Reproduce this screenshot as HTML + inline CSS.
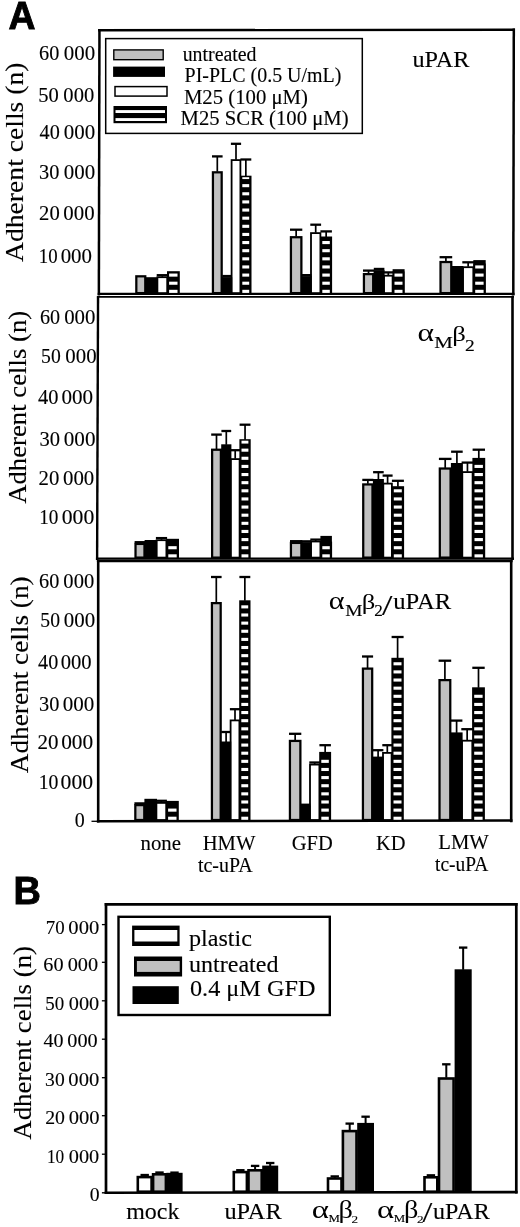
<!DOCTYPE html>
<html lang="en"><head><meta charset="utf-8"><title>Adherent cells figure</title>
<style>html,body{margin:0;padding:0;background:#fff}svg{display:block}text{font-family:'Liberation Serif', 'DejaVu Serif', serif;fill:#000;stroke:#000;stroke-width:0.12px}.gk{stroke:none}.pl{font-family:'Liberation Sans', 'DejaVu Sans', sans-serif;font-weight:bold;stroke-width:0.9px}</style>
</head><body>
<svg width="520" height="1227" viewBox="0 0 520 1227">
<rect x="0" y="0" width="520" height="1227" fill="#fff"/>
<text class="pl" x="8.6" y="29.2" font-size="38" textLength="27" lengthAdjust="spacingAndGlyphs">A</text>
<text class="pl" x="13.6" y="904" font-size="38.4" textLength="27.4" lengthAdjust="spacingAndGlyphs">B</text>
<line x1="99.45" y1="29.1" x2="98.85" y2="295.4" stroke="#000" stroke-width="2.5" />
<line x1="98.1" y1="30.3" x2="515" y2="29.7" stroke="#000" stroke-width="2.4" />
<line x1="513.8" y1="28.5" x2="513.3" y2="295.4" stroke="#000" stroke-width="2.5" />
<line x1="97.7" y1="293.95" x2="514.5" y2="293.95" stroke="#000" stroke-width="2.3" />
<line x1="98.05" y1="296.3" x2="97.1" y2="560" stroke="#000" stroke-width="2.4" />
<line x1="96.9" y1="296.95" x2="514" y2="296.95" stroke="#000" stroke-width="1.7" />
<line x1="512.5" y1="295.7" x2="512.5" y2="560" stroke="#000" stroke-width="2.6" />
<line x1="96" y1="558.7" x2="514" y2="558.7" stroke="#000" stroke-width="2.2" />
<line x1="98.2" y1="559.7" x2="98.2" y2="822.4" stroke="#000" stroke-width="2.6" />
<line x1="96.9" y1="561" x2="512.6" y2="561" stroke="#000" stroke-width="2.6" />
<line x1="511.2" y1="559.7" x2="511.2" y2="822.2" stroke="#000" stroke-width="2.6" />
<line x1="96.9" y1="821.3" x2="512.5" y2="820.5" stroke="#000" stroke-width="2.5" />
<line x1="91.5" y1="821.3" x2="97.5" y2="821.3" stroke="#000" stroke-width="1.3" />
<text y="59.7" font-size="20"><tspan x="39.09" textLength="20.22" lengthAdjust="spacingAndGlyphs">60</tspan> <tspan x="63.76" textLength="31.37" lengthAdjust="spacingAndGlyphs">000</tspan></text>
<text y="102.3" font-size="20"><tspan x="38.27" textLength="20.56" lengthAdjust="spacingAndGlyphs">50</tspan> <tspan x="63.38" textLength="30.85" lengthAdjust="spacingAndGlyphs">000</tspan></text>
<text y="138.8" font-size="20"><tspan x="39.6" textLength="20.21" lengthAdjust="spacingAndGlyphs">40</tspan> <tspan x="63.76" textLength="31.37" lengthAdjust="spacingAndGlyphs">000</tspan></text>
<text y="178.9" font-size="20"><tspan x="38.98" textLength="20.33" lengthAdjust="spacingAndGlyphs">30</tspan> <tspan x="63.76" textLength="31.37" lengthAdjust="spacingAndGlyphs">000</tspan></text>
<text y="220.2" font-size="20"><tspan x="39.07" textLength="20.66" lengthAdjust="spacingAndGlyphs">20</tspan> <tspan x="63.37" textLength="31.27" lengthAdjust="spacingAndGlyphs">000</tspan></text>
<text y="262.7" font-size="20"><tspan x="38.8" textLength="18.85" lengthAdjust="spacingAndGlyphs">10</tspan> <tspan x="60.66" textLength="31.37" lengthAdjust="spacingAndGlyphs">000</tspan></text>
<text y="323.9" font-size="20"><tspan x="39.9" textLength="20.11" lengthAdjust="spacingAndGlyphs">60</tspan> <tspan x="64.17" textLength="31.27" lengthAdjust="spacingAndGlyphs">000</tspan></text>
<text y="363" font-size="20"><tspan x="41.12" textLength="19.67" lengthAdjust="spacingAndGlyphs">50</tspan> <tspan x="65.37" textLength="31.27" lengthAdjust="spacingAndGlyphs">000</tspan></text>
<text y="403.5" font-size="20"><tspan x="38.09" textLength="20.43" lengthAdjust="spacingAndGlyphs">40</tspan> <tspan x="61.45" textLength="31.69" lengthAdjust="spacingAndGlyphs">000</tspan></text>
<text y="446.3" font-size="20"><tspan x="39.47" textLength="20.55" lengthAdjust="spacingAndGlyphs">30</tspan> <tspan x="63.75" textLength="31.69" lengthAdjust="spacingAndGlyphs">000</tspan></text>
<text y="484.7" font-size="20"><tspan x="38.57" textLength="20.77" lengthAdjust="spacingAndGlyphs">20</tspan> <tspan x="62.97" textLength="31.27" lengthAdjust="spacingAndGlyphs">000</tspan></text>
<text y="524.4" font-size="20"><tspan x="39.27" textLength="19.2" lengthAdjust="spacingAndGlyphs">10</tspan> <tspan x="61.73" textLength="32.54" lengthAdjust="spacingAndGlyphs">000</tspan></text>
<text y="587.8" font-size="20"><tspan x="39.09" textLength="20.22" lengthAdjust="spacingAndGlyphs">60</tspan> <tspan x="63.38" textLength="30.85" lengthAdjust="spacingAndGlyphs">000</tspan></text>
<text y="627.2" font-size="20"><tspan x="40.32" textLength="19.67" lengthAdjust="spacingAndGlyphs">50</tspan> <tspan x="63.76" textLength="31.37" lengthAdjust="spacingAndGlyphs">000</tspan></text>
<text y="668.6" font-size="20"><tspan x="38.1" textLength="20.11" lengthAdjust="spacingAndGlyphs">40</tspan> <tspan x="60.67" textLength="30.95" lengthAdjust="spacingAndGlyphs">000</tspan></text>
<text y="710.9" font-size="20"><tspan x="38.98" textLength="20.33" lengthAdjust="spacingAndGlyphs">30</tspan> <tspan x="62.66" textLength="31.58" lengthAdjust="spacingAndGlyphs">000</tspan></text>
<text y="749.2" font-size="20"><tspan x="37.56" textLength="20.98" lengthAdjust="spacingAndGlyphs">20</tspan> <tspan x="61.15" textLength="32.01" lengthAdjust="spacingAndGlyphs">000</tspan></text>
<text y="789.1" font-size="20"><tspan x="38.72" textLength="19.77" lengthAdjust="spacingAndGlyphs">10</tspan> <tspan x="60.63" textLength="32.54" lengthAdjust="spacingAndGlyphs">000</tspan></text>
<text x="74.8" y="827.3" font-size="20" >0</text>
<text transform="translate(23.4,262) rotate(-90)" font-size="26" textLength="199.5" lengthAdjust="spacingAndGlyphs">Adherent cells (n)</text>
<text transform="translate(26.2,503.8) rotate(-90)" font-size="26" textLength="193" lengthAdjust="spacingAndGlyphs">Adherent cells (n)</text>
<text transform="translate(27.7,773.2) rotate(-90)" font-size="26" textLength="196.8" lengthAdjust="spacingAndGlyphs">Adherent cells (n)</text>
<rect x="105.7" y="38.6" width="256.6" height="94.8" fill="#fff" stroke="#000" stroke-width="1.5"/>
<rect x="113.8" y="49.9" width="49.4" height="9.8" fill="#c0c0c0" stroke="#000" stroke-width="1.4"/>
<rect x="113.1" y="66.6" width="51.9" height="10.3" fill="#000"/>
<rect x="115" y="86.6" width="52" height="9.5" fill="#fff" stroke="#000" stroke-width="1.5"/>
<rect x="113.5" y="106" width="53.5" height="17.2" fill="#000"/>
<rect x="115.5" y="110.1" width="49.5" height="2.9" fill="#fff"/>
<rect x="115.5" y="118.1" width="49.5" height="2.9" fill="#fff"/>
<text x="182.7" y="60.6" font-size="20" textLength="73.8" lengthAdjust="spacingAndGlyphs" >untreated</text>
<text x="184.6" y="81.6" font-size="20" textLength="156.8" lengthAdjust="spacingAndGlyphs" >PI-PLC (0.5 U/mL)</text>
<text x="183.9" y="104.2" font-size="20" textLength="124.0" lengthAdjust="spacingAndGlyphs" >M25 (100 μM)</text>
<text x="180.6" y="125.4" font-size="20" textLength="168.0" lengthAdjust="spacingAndGlyphs" >M25 SCR (100 μM)</text>
<text x="412.5" y="66.6" font-size="24" textLength="57.0" lengthAdjust="spacingAndGlyphs" >uPAR</text>
<text x="417.5" y="340.8" font-size="25" textLength="16.5" lengthAdjust="spacingAndGlyphs" class="gk">α</text>
<text x="434.3" y="347.5" font-size="17.4" textLength="18.6" lengthAdjust="spacingAndGlyphs" >M</text>
<text x="452.3" y="340.8" font-size="21" textLength="13.6" lengthAdjust="spacingAndGlyphs" class="gk">β</text>
<text x="464.9" y="350.8" font-size="16.5" textLength="9.8" lengthAdjust="spacingAndGlyphs" >2</text>
<text x="328.7" y="609.4" font-size="25" textLength="15.8" lengthAdjust="spacingAndGlyphs" class="gk">α</text>
<text x="345.2" y="615.6" font-size="17.4" textLength="17.2" lengthAdjust="spacingAndGlyphs" >M</text>
<text x="361.7" y="609.4" font-size="21" textLength="13.6" lengthAdjust="spacingAndGlyphs" class="gk">β</text>
<text x="374.3" y="616.4" font-size="16.5" textLength="8.6" lengthAdjust="spacingAndGlyphs" >2</text>
<text x="382.1" y="615.4" font-size="29" textLength="10.4" lengthAdjust="spacingAndGlyphs" >/</text>
<text x="393.2" y="609.4" font-size="24" textLength="58.0" lengthAdjust="spacingAndGlyphs" >uPAR</text>
<rect x="136.32" y="276.32" width="8.95" height="16.78" fill="#c0c0c0" stroke="#000" stroke-width="2.25"/>
<rect x="157.40" y="277.20" width="9.80" height="15.90" fill="#fff" stroke="#000" stroke-width="1.8"/>
<line x1="162.30" y1="276.80" x2="162.30" y2="275.20" stroke="#000" stroke-width="1.7"/>
<line x1="156.70" y1="275.20" x2="167.90" y2="275.20" stroke="#000" stroke-width="2.3"/>
<rect x="145.40" y="277.20" width="12.60" height="16.90" fill="#000"/>
<rect x="167.00" y="271.20" width="12.80" height="22.90" fill="#000"/>
<rect x="169.10" y="289.80" width="8.40" height="3.10" fill="#fff"/>
<rect x="169.10" y="281.67" width="8.40" height="3.10" fill="#fff"/>
<rect x="169.10" y="273.54" width="8.40" height="3.10" fill="#fff"/>
<rect x="212.93" y="172.32" width="8.75" height="120.78" fill="#c0c0c0" stroke="#000" stroke-width="2.25"/>
<line x1="217.30" y1="171.70" x2="217.30" y2="156.40" stroke="#000" stroke-width="1.7"/>
<line x1="212.00" y1="156.40" x2="222.60" y2="156.40" stroke="#000" stroke-width="2.3"/>
<rect x="231.60" y="160.10" width="8.80" height="133.00" fill="#fff" stroke="#000" stroke-width="1.8"/>
<line x1="236.00" y1="159.70" x2="236.00" y2="143.80" stroke="#000" stroke-width="1.7"/>
<line x1="230.90" y1="143.80" x2="241.10" y2="143.80" stroke="#000" stroke-width="2.3"/>
<rect x="222.00" y="277.20" width="10.20" height="16.90" fill="#000"/>
<rect x="222.20" y="274.90" width="9.80" height="2.80" fill="#000"/>
<rect x="240.20" y="175.70" width="11.30" height="118.40" fill="#000"/>
<rect x="242.30" y="289.80" width="6.90" height="3.10" fill="#fff"/>
<rect x="242.30" y="281.67" width="6.90" height="3.10" fill="#fff"/>
<rect x="242.30" y="273.54" width="6.90" height="3.10" fill="#fff"/>
<rect x="242.30" y="265.41" width="6.90" height="3.10" fill="#fff"/>
<rect x="242.30" y="257.28" width="6.90" height="3.10" fill="#fff"/>
<rect x="242.30" y="249.15" width="6.90" height="3.10" fill="#fff"/>
<rect x="242.30" y="241.02" width="6.90" height="3.10" fill="#fff"/>
<rect x="242.30" y="232.89" width="6.90" height="3.10" fill="#fff"/>
<rect x="242.30" y="224.76" width="6.90" height="3.10" fill="#fff"/>
<rect x="242.30" y="216.63" width="6.90" height="3.10" fill="#fff"/>
<rect x="242.30" y="208.50" width="6.90" height="3.10" fill="#fff"/>
<rect x="242.30" y="200.37" width="6.90" height="3.10" fill="#fff"/>
<rect x="242.30" y="192.24" width="6.90" height="3.10" fill="#fff"/>
<rect x="242.30" y="184.11" width="6.90" height="3.10" fill="#fff"/>
<rect x="242.30" y="177.20" width="6.90" height="1.88" fill="#fff"/>
<line x1="245.85" y1="176.20" x2="245.85" y2="159.50" stroke="#000" stroke-width="1.7"/>
<line x1="240.40" y1="159.50" x2="251.30" y2="159.50" stroke="#000" stroke-width="2.3"/>
<rect x="290.93" y="237.22" width="10.45" height="55.88" fill="#c0c0c0" stroke="#000" stroke-width="2.25"/>
<line x1="296.15" y1="236.60" x2="296.15" y2="229.70" stroke="#000" stroke-width="1.7"/>
<line x1="290.00" y1="229.70" x2="302.30" y2="229.70" stroke="#000" stroke-width="2.3"/>
<rect x="311.00" y="233.10" width="9.40" height="60.00" fill="#fff" stroke="#000" stroke-width="1.8"/>
<line x1="315.70" y1="232.70" x2="315.70" y2="224.70" stroke="#000" stroke-width="1.7"/>
<line x1="310.30" y1="224.70" x2="321.10" y2="224.70" stroke="#000" stroke-width="2.3"/>
<rect x="301.40" y="276.20" width="10.20" height="17.90" fill="#000"/>
<rect x="301.60" y="274.00" width="9.80" height="2.70" fill="#000"/>
<rect x="320.20" y="236.50" width="11.90" height="57.60" fill="#000"/>
<rect x="322.30" y="289.80" width="7.50" height="3.10" fill="#fff"/>
<rect x="322.30" y="281.67" width="7.50" height="3.10" fill="#fff"/>
<rect x="322.30" y="273.54" width="7.50" height="3.10" fill="#fff"/>
<rect x="322.30" y="265.41" width="7.50" height="3.10" fill="#fff"/>
<rect x="322.30" y="257.28" width="7.50" height="3.10" fill="#fff"/>
<rect x="322.30" y="249.15" width="7.50" height="3.10" fill="#fff"/>
<rect x="322.30" y="241.02" width="7.50" height="3.10" fill="#fff"/>
<line x1="326.15" y1="237.00" x2="326.15" y2="231.40" stroke="#000" stroke-width="1.7"/>
<line x1="320.40" y1="231.40" x2="331.90" y2="231.40" stroke="#000" stroke-width="2.3"/>
<rect x="363.93" y="274.12" width="9.25" height="18.98" fill="#c0c0c0" stroke="#000" stroke-width="2.25"/>
<line x1="368.55" y1="273.50" x2="368.55" y2="270.60" stroke="#000" stroke-width="1.7"/>
<line x1="363.00" y1="270.60" x2="374.10" y2="270.60" stroke="#000" stroke-width="2.3"/>
<rect x="384.00" y="275.70" width="8.60" height="17.40" fill="#fff" stroke="#000" stroke-width="1.8"/>
<line x1="388.30" y1="275.30" x2="388.30" y2="272.40" stroke="#000" stroke-width="1.7"/>
<line x1="383.30" y1="272.40" x2="393.30" y2="272.40" stroke="#000" stroke-width="2.3"/>
<rect x="373.60" y="270.20" width="11.00" height="23.90" fill="#000"/>
<rect x="373.80" y="267.80" width="10.60" height="2.90" fill="#000"/>
<rect x="392.40" y="271.60" width="12.40" height="22.50" fill="#000"/>
<rect x="394.50" y="289.80" width="8.00" height="3.10" fill="#fff"/>
<rect x="394.50" y="281.67" width="8.00" height="3.10" fill="#fff"/>
<rect x="394.50" y="273.54" width="8.00" height="3.10" fill="#fff"/>
<rect x="392.60" y="269.20" width="12.00" height="2.90" fill="#000"/>
<rect x="440.52" y="262.02" width="10.75" height="31.08" fill="#c0c0c0" stroke="#000" stroke-width="2.25"/>
<line x1="445.90" y1="261.40" x2="445.90" y2="257.20" stroke="#000" stroke-width="1.7"/>
<line x1="439.60" y1="257.20" x2="452.20" y2="257.20" stroke="#000" stroke-width="2.3"/>
<rect x="463.00" y="267.20" width="10.30" height="25.90" fill="#fff" stroke="#000" stroke-width="1.8"/>
<line x1="468.15" y1="266.80" x2="468.15" y2="262.30" stroke="#000" stroke-width="1.7"/>
<line x1="462.30" y1="262.30" x2="474.00" y2="262.30" stroke="#000" stroke-width="2.3"/>
<rect x="451.60" y="267.80" width="12.00" height="26.30" fill="#000"/>
<rect x="451.80" y="266.00" width="11.60" height="2.30" fill="#000"/>
<rect x="473.10" y="263.60" width="12.80" height="30.50" fill="#000"/>
<rect x="475.20" y="289.80" width="8.40" height="3.10" fill="#fff"/>
<rect x="475.20" y="281.67" width="8.40" height="3.10" fill="#fff"/>
<rect x="475.20" y="273.54" width="8.40" height="3.10" fill="#fff"/>
<rect x="475.20" y="265.41" width="8.40" height="3.10" fill="#fff"/>
<rect x="473.30" y="260.10" width="12.40" height="4.00" fill="#000"/>
<rect x="135.52" y="543.92" width="8.95" height="13.68" fill="#c0c0c0" stroke="#000" stroke-width="2.25"/>
<line x1="140.00" y1="543.30" x2="140.00" y2="542.20" stroke="#000" stroke-width="1.7"/>
<line x1="134.60" y1="542.20" x2="145.40" y2="542.20" stroke="#000" stroke-width="2.3"/>
<rect x="156.60" y="540.20" width="9.80" height="17.40" fill="#fff" stroke="#000" stroke-width="1.8"/>
<line x1="161.50" y1="539.80" x2="161.50" y2="538.10" stroke="#000" stroke-width="1.7"/>
<line x1="155.90" y1="538.10" x2="167.10" y2="538.10" stroke="#000" stroke-width="2.3"/>
<rect x="144.60" y="540.00" width="12.60" height="18.60" fill="#000"/>
<rect x="166.20" y="538.80" width="12.80" height="19.80" fill="#000"/>
<rect x="168.30" y="554.30" width="8.40" height="3.10" fill="#fff"/>
<rect x="168.30" y="546.17" width="8.40" height="3.10" fill="#fff"/>
<rect x="212.12" y="449.73" width="8.75" height="107.88" fill="#c0c0c0" stroke="#000" stroke-width="2.25"/>
<line x1="216.50" y1="449.10" x2="216.50" y2="434.60" stroke="#000" stroke-width="1.7"/>
<line x1="211.20" y1="434.60" x2="221.80" y2="434.60" stroke="#000" stroke-width="2.3"/>
<rect x="230.80" y="459.10" width="8.80" height="98.50" fill="#fff" stroke="#000" stroke-width="1.8"/>
<line x1="235.20" y1="458.70" x2="235.20" y2="450.20" stroke="#000" stroke-width="1.7"/>
<line x1="230.10" y1="450.20" x2="240.30" y2="450.20" stroke="#000" stroke-width="2.3"/>
<rect x="221.20" y="444.30" width="10.20" height="114.30" fill="#000"/>
<line x1="226.30" y1="444.80" x2="226.30" y2="431.00" stroke="#000" stroke-width="1.7"/>
<line x1="221.40" y1="431.00" x2="231.20" y2="431.00" stroke="#000" stroke-width="2.3"/>
<rect x="239.40" y="439.20" width="11.30" height="119.40" fill="#000"/>
<rect x="241.50" y="554.30" width="6.90" height="3.10" fill="#fff"/>
<rect x="241.50" y="546.17" width="6.90" height="3.10" fill="#fff"/>
<rect x="241.50" y="538.04" width="6.90" height="3.10" fill="#fff"/>
<rect x="241.50" y="529.91" width="6.90" height="3.10" fill="#fff"/>
<rect x="241.50" y="521.78" width="6.90" height="3.10" fill="#fff"/>
<rect x="241.50" y="513.65" width="6.90" height="3.10" fill="#fff"/>
<rect x="241.50" y="505.52" width="6.90" height="3.10" fill="#fff"/>
<rect x="241.50" y="497.39" width="6.90" height="3.10" fill="#fff"/>
<rect x="241.50" y="489.26" width="6.90" height="3.10" fill="#fff"/>
<rect x="241.50" y="481.13" width="6.90" height="3.10" fill="#fff"/>
<rect x="241.50" y="473.00" width="6.90" height="3.10" fill="#fff"/>
<rect x="241.50" y="464.87" width="6.90" height="3.10" fill="#fff"/>
<rect x="241.50" y="456.74" width="6.90" height="3.10" fill="#fff"/>
<rect x="241.50" y="448.61" width="6.90" height="3.10" fill="#fff"/>
<rect x="241.50" y="440.70" width="6.90" height="2.88" fill="#fff"/>
<line x1="245.05" y1="439.70" x2="245.05" y2="424.70" stroke="#000" stroke-width="1.7"/>
<line x1="239.60" y1="424.70" x2="250.50" y2="424.70" stroke="#000" stroke-width="2.3"/>
<rect x="290.93" y="542.92" width="10.45" height="14.68" fill="#c0c0c0" stroke="#000" stroke-width="2.25"/>
<line x1="296.15" y1="542.30" x2="296.15" y2="541.20" stroke="#000" stroke-width="1.7"/>
<line x1="290.00" y1="541.20" x2="302.30" y2="541.20" stroke="#000" stroke-width="2.3"/>
<rect x="311.00" y="541.50" width="9.40" height="16.10" fill="#fff" stroke="#000" stroke-width="1.8"/>
<line x1="315.70" y1="541.10" x2="315.70" y2="539.60" stroke="#000" stroke-width="1.7"/>
<line x1="310.30" y1="539.60" x2="321.10" y2="539.60" stroke="#000" stroke-width="2.3"/>
<rect x="301.40" y="542.20" width="10.20" height="16.40" fill="#000"/>
<rect x="301.60" y="540.20" width="9.80" height="2.50" fill="#000"/>
<rect x="320.20" y="541.60" width="11.90" height="17.00" fill="#000"/>
<rect x="322.30" y="554.30" width="7.50" height="3.10" fill="#fff"/>
<rect x="322.30" y="546.17" width="7.50" height="3.10" fill="#fff"/>
<rect x="320.40" y="535.90" width="11.50" height="6.20" fill="#000"/>
<rect x="363.23" y="484.43" width="9.25" height="73.18" fill="#c0c0c0" stroke="#000" stroke-width="2.25"/>
<line x1="367.85" y1="483.80" x2="367.85" y2="479.90" stroke="#000" stroke-width="1.7"/>
<line x1="362.30" y1="479.90" x2="373.40" y2="479.90" stroke="#000" stroke-width="2.3"/>
<rect x="383.30" y="483.60" width="8.60" height="74.00" fill="#fff" stroke="#000" stroke-width="1.8"/>
<line x1="387.60" y1="483.20" x2="387.60" y2="475.60" stroke="#000" stroke-width="1.7"/>
<line x1="382.60" y1="475.60" x2="392.60" y2="475.60" stroke="#000" stroke-width="2.3"/>
<rect x="372.90" y="479.00" width="11.00" height="79.60" fill="#000"/>
<line x1="378.40" y1="479.50" x2="378.40" y2="472.20" stroke="#000" stroke-width="1.7"/>
<line x1="373.10" y1="472.20" x2="383.70" y2="472.20" stroke="#000" stroke-width="2.3"/>
<rect x="391.70" y="486.20" width="12.40" height="72.40" fill="#000"/>
<rect x="393.80" y="554.30" width="8.00" height="3.10" fill="#fff"/>
<rect x="393.80" y="546.17" width="8.00" height="3.10" fill="#fff"/>
<rect x="393.80" y="538.04" width="8.00" height="3.10" fill="#fff"/>
<rect x="393.80" y="529.91" width="8.00" height="3.10" fill="#fff"/>
<rect x="393.80" y="521.78" width="8.00" height="3.10" fill="#fff"/>
<rect x="393.80" y="513.65" width="8.00" height="3.10" fill="#fff"/>
<rect x="393.80" y="505.52" width="8.00" height="3.10" fill="#fff"/>
<rect x="393.80" y="497.39" width="8.00" height="3.10" fill="#fff"/>
<rect x="393.80" y="489.26" width="8.00" height="3.10" fill="#fff"/>
<line x1="397.90" y1="486.70" x2="397.90" y2="480.80" stroke="#000" stroke-width="1.7"/>
<line x1="391.90" y1="480.80" x2="403.90" y2="480.80" stroke="#000" stroke-width="2.3"/>
<rect x="439.82" y="468.52" width="10.75" height="89.08" fill="#c0c0c0" stroke="#000" stroke-width="2.25"/>
<line x1="445.20" y1="467.90" x2="445.20" y2="458.90" stroke="#000" stroke-width="1.7"/>
<line x1="438.90" y1="458.90" x2="451.50" y2="458.90" stroke="#000" stroke-width="2.3"/>
<rect x="462.30" y="472.10" width="10.30" height="85.50" fill="#fff" stroke="#000" stroke-width="1.8"/>
<line x1="467.45" y1="471.70" x2="467.45" y2="462.60" stroke="#000" stroke-width="1.7"/>
<line x1="461.60" y1="462.60" x2="473.30" y2="462.60" stroke="#000" stroke-width="2.3"/>
<rect x="450.90" y="463.00" width="12.00" height="95.60" fill="#000"/>
<line x1="456.90" y1="463.50" x2="456.90" y2="451.70" stroke="#000" stroke-width="1.7"/>
<line x1="451.10" y1="451.70" x2="462.70" y2="451.70" stroke="#000" stroke-width="2.3"/>
<rect x="472.40" y="457.90" width="12.80" height="100.70" fill="#000"/>
<rect x="474.50" y="554.30" width="8.40" height="3.10" fill="#fff"/>
<rect x="474.50" y="546.17" width="8.40" height="3.10" fill="#fff"/>
<rect x="474.50" y="538.04" width="8.40" height="3.10" fill="#fff"/>
<rect x="474.50" y="529.91" width="8.40" height="3.10" fill="#fff"/>
<rect x="474.50" y="521.78" width="8.40" height="3.10" fill="#fff"/>
<rect x="474.50" y="513.65" width="8.40" height="3.10" fill="#fff"/>
<rect x="474.50" y="505.52" width="8.40" height="3.10" fill="#fff"/>
<rect x="474.50" y="497.39" width="8.40" height="3.10" fill="#fff"/>
<rect x="474.50" y="489.26" width="8.40" height="3.10" fill="#fff"/>
<rect x="474.50" y="481.13" width="8.40" height="3.10" fill="#fff"/>
<rect x="474.50" y="473.00" width="8.40" height="3.10" fill="#fff"/>
<rect x="474.50" y="464.87" width="8.40" height="3.10" fill="#fff"/>
<line x1="478.80" y1="458.40" x2="478.80" y2="449.70" stroke="#000" stroke-width="1.7"/>
<line x1="472.60" y1="449.70" x2="485.00" y2="449.70" stroke="#000" stroke-width="2.3"/>
<rect x="135.32" y="805.12" width="8.95" height="14.88" fill="#c0c0c0" stroke="#000" stroke-width="2.25"/>
<line x1="139.80" y1="804.50" x2="139.80" y2="803.40" stroke="#000" stroke-width="1.7"/>
<line x1="134.40" y1="803.40" x2="145.20" y2="803.40" stroke="#000" stroke-width="2.3"/>
<rect x="156.40" y="802.90" width="9.80" height="17.10" fill="#fff" stroke="#000" stroke-width="1.8"/>
<line x1="161.30" y1="802.50" x2="161.30" y2="800.80" stroke="#000" stroke-width="1.7"/>
<line x1="155.70" y1="800.80" x2="166.90" y2="800.80" stroke="#000" stroke-width="2.3"/>
<rect x="144.40" y="798.80" width="12.60" height="22.20" fill="#000"/>
<rect x="166.00" y="800.90" width="12.80" height="20.10" fill="#000"/>
<rect x="168.10" y="816.70" width="8.40" height="3.10" fill="#fff"/>
<rect x="168.10" y="808.57" width="8.40" height="3.10" fill="#fff"/>
<rect x="211.93" y="603.12" width="8.75" height="216.88" fill="#c0c0c0" stroke="#000" stroke-width="2.25"/>
<line x1="216.30" y1="602.50" x2="216.30" y2="577.00" stroke="#000" stroke-width="1.7"/>
<line x1="211.00" y1="577.00" x2="221.60" y2="577.00" stroke="#000" stroke-width="2.3"/>
<rect x="230.60" y="720.40" width="8.80" height="99.60" fill="#fff" stroke="#000" stroke-width="1.8"/>
<line x1="235.00" y1="720.00" x2="235.00" y2="709.20" stroke="#000" stroke-width="1.7"/>
<line x1="229.90" y1="709.20" x2="240.10" y2="709.20" stroke="#000" stroke-width="2.3"/>
<rect x="221.00" y="741.50" width="10.20" height="79.50" fill="#000"/>
<line x1="226.10" y1="742.00" x2="226.10" y2="732.00" stroke="#000" stroke-width="1.7"/>
<line x1="221.20" y1="732.00" x2="231.00" y2="732.00" stroke="#000" stroke-width="2.3"/>
<rect x="239.20" y="600.30" width="11.30" height="220.70" fill="#000"/>
<rect x="241.30" y="816.70" width="6.90" height="3.10" fill="#fff"/>
<rect x="241.30" y="808.57" width="6.90" height="3.10" fill="#fff"/>
<rect x="241.30" y="800.44" width="6.90" height="3.10" fill="#fff"/>
<rect x="241.30" y="792.31" width="6.90" height="3.10" fill="#fff"/>
<rect x="241.30" y="784.18" width="6.90" height="3.10" fill="#fff"/>
<rect x="241.30" y="776.05" width="6.90" height="3.10" fill="#fff"/>
<rect x="241.30" y="767.92" width="6.90" height="3.10" fill="#fff"/>
<rect x="241.30" y="759.79" width="6.90" height="3.10" fill="#fff"/>
<rect x="241.30" y="751.66" width="6.90" height="3.10" fill="#fff"/>
<rect x="241.30" y="743.53" width="6.90" height="3.10" fill="#fff"/>
<rect x="241.30" y="735.40" width="6.90" height="3.10" fill="#fff"/>
<rect x="241.30" y="727.27" width="6.90" height="3.10" fill="#fff"/>
<rect x="241.30" y="719.14" width="6.90" height="3.10" fill="#fff"/>
<rect x="241.30" y="711.01" width="6.90" height="3.10" fill="#fff"/>
<rect x="241.30" y="702.88" width="6.90" height="3.10" fill="#fff"/>
<rect x="241.30" y="694.75" width="6.90" height="3.10" fill="#fff"/>
<rect x="241.30" y="686.62" width="6.90" height="3.10" fill="#fff"/>
<rect x="241.30" y="678.49" width="6.90" height="3.10" fill="#fff"/>
<rect x="241.30" y="670.36" width="6.90" height="3.10" fill="#fff"/>
<rect x="241.30" y="662.23" width="6.90" height="3.10" fill="#fff"/>
<rect x="241.30" y="654.10" width="6.90" height="3.10" fill="#fff"/>
<rect x="241.30" y="645.97" width="6.90" height="3.10" fill="#fff"/>
<rect x="241.30" y="637.84" width="6.90" height="3.10" fill="#fff"/>
<rect x="241.30" y="629.71" width="6.90" height="3.10" fill="#fff"/>
<rect x="241.30" y="621.58" width="6.90" height="3.10" fill="#fff"/>
<rect x="241.30" y="613.45" width="6.90" height="3.10" fill="#fff"/>
<rect x="241.30" y="605.32" width="6.90" height="3.10" fill="#fff"/>
<line x1="244.85" y1="600.80" x2="244.85" y2="577.00" stroke="#000" stroke-width="1.7"/>
<line x1="239.40" y1="577.00" x2="250.30" y2="577.00" stroke="#000" stroke-width="2.3"/>
<rect x="289.93" y="740.92" width="10.45" height="79.08" fill="#c0c0c0" stroke="#000" stroke-width="2.25"/>
<line x1="295.15" y1="740.30" x2="295.15" y2="733.80" stroke="#000" stroke-width="1.7"/>
<line x1="289.00" y1="733.80" x2="301.30" y2="733.80" stroke="#000" stroke-width="2.3"/>
<rect x="310.00" y="764.60" width="9.40" height="55.40" fill="#fff" stroke="#000" stroke-width="1.8"/>
<line x1="314.70" y1="764.20" x2="314.70" y2="762.50" stroke="#000" stroke-width="1.7"/>
<line x1="309.30" y1="762.50" x2="320.10" y2="762.50" stroke="#000" stroke-width="2.3"/>
<rect x="300.40" y="805.80" width="10.20" height="15.20" fill="#000"/>
<rect x="300.60" y="803.60" width="9.80" height="2.70" fill="#000"/>
<rect x="319.20" y="751.90" width="11.90" height="69.10" fill="#000"/>
<rect x="321.30" y="816.70" width="7.50" height="3.10" fill="#fff"/>
<rect x="321.30" y="808.57" width="7.50" height="3.10" fill="#fff"/>
<rect x="321.30" y="800.44" width="7.50" height="3.10" fill="#fff"/>
<rect x="321.30" y="792.31" width="7.50" height="3.10" fill="#fff"/>
<rect x="321.30" y="784.18" width="7.50" height="3.10" fill="#fff"/>
<rect x="321.30" y="776.05" width="7.50" height="3.10" fill="#fff"/>
<rect x="321.30" y="767.92" width="7.50" height="3.10" fill="#fff"/>
<rect x="321.30" y="759.79" width="7.50" height="3.10" fill="#fff"/>
<line x1="325.15" y1="752.40" x2="325.15" y2="745.20" stroke="#000" stroke-width="1.7"/>
<line x1="319.40" y1="745.20" x2="330.90" y2="745.20" stroke="#000" stroke-width="2.3"/>
<rect x="362.93" y="668.62" width="9.25" height="151.38" fill="#c0c0c0" stroke="#000" stroke-width="2.25"/>
<line x1="367.55" y1="668.00" x2="367.55" y2="656.50" stroke="#000" stroke-width="1.7"/>
<line x1="362.00" y1="656.50" x2="373.10" y2="656.50" stroke="#000" stroke-width="2.3"/>
<rect x="383.00" y="752.90" width="8.60" height="67.10" fill="#fff" stroke="#000" stroke-width="1.8"/>
<line x1="387.30" y1="752.50" x2="387.30" y2="745.20" stroke="#000" stroke-width="1.7"/>
<line x1="382.30" y1="745.20" x2="392.30" y2="745.20" stroke="#000" stroke-width="2.3"/>
<rect x="372.60" y="756.60" width="11.00" height="64.40" fill="#000"/>
<line x1="378.10" y1="757.10" x2="378.10" y2="750.20" stroke="#000" stroke-width="1.7"/>
<line x1="372.80" y1="750.20" x2="383.40" y2="750.20" stroke="#000" stroke-width="2.3"/>
<rect x="391.40" y="657.80" width="12.40" height="163.20" fill="#000"/>
<rect x="393.50" y="816.70" width="8.00" height="3.10" fill="#fff"/>
<rect x="393.50" y="808.57" width="8.00" height="3.10" fill="#fff"/>
<rect x="393.50" y="800.44" width="8.00" height="3.10" fill="#fff"/>
<rect x="393.50" y="792.31" width="8.00" height="3.10" fill="#fff"/>
<rect x="393.50" y="784.18" width="8.00" height="3.10" fill="#fff"/>
<rect x="393.50" y="776.05" width="8.00" height="3.10" fill="#fff"/>
<rect x="393.50" y="767.92" width="8.00" height="3.10" fill="#fff"/>
<rect x="393.50" y="759.79" width="8.00" height="3.10" fill="#fff"/>
<rect x="393.50" y="751.66" width="8.00" height="3.10" fill="#fff"/>
<rect x="393.50" y="743.53" width="8.00" height="3.10" fill="#fff"/>
<rect x="393.50" y="735.40" width="8.00" height="3.10" fill="#fff"/>
<rect x="393.50" y="727.27" width="8.00" height="3.10" fill="#fff"/>
<rect x="393.50" y="719.14" width="8.00" height="3.10" fill="#fff"/>
<rect x="393.50" y="711.01" width="8.00" height="3.10" fill="#fff"/>
<rect x="393.50" y="702.88" width="8.00" height="3.10" fill="#fff"/>
<rect x="393.50" y="694.75" width="8.00" height="3.10" fill="#fff"/>
<rect x="393.50" y="686.62" width="8.00" height="3.10" fill="#fff"/>
<rect x="393.50" y="678.49" width="8.00" height="3.10" fill="#fff"/>
<rect x="393.50" y="670.36" width="8.00" height="3.10" fill="#fff"/>
<rect x="393.50" y="662.23" width="8.00" height="3.10" fill="#fff"/>
<line x1="397.60" y1="658.30" x2="397.60" y2="637.00" stroke="#000" stroke-width="1.7"/>
<line x1="391.60" y1="637.00" x2="403.60" y2="637.00" stroke="#000" stroke-width="2.3"/>
<rect x="439.52" y="680.12" width="10.75" height="139.88" fill="#c0c0c0" stroke="#000" stroke-width="2.25"/>
<line x1="444.90" y1="679.50" x2="444.90" y2="660.70" stroke="#000" stroke-width="1.7"/>
<line x1="438.60" y1="660.70" x2="451.20" y2="660.70" stroke="#000" stroke-width="2.3"/>
<rect x="462.00" y="740.70" width="10.30" height="79.30" fill="#fff" stroke="#000" stroke-width="1.8"/>
<line x1="467.15" y1="740.30" x2="467.15" y2="729.20" stroke="#000" stroke-width="1.7"/>
<line x1="461.30" y1="729.20" x2="473.00" y2="729.20" stroke="#000" stroke-width="2.3"/>
<rect x="450.60" y="732.40" width="12.00" height="88.60" fill="#000"/>
<line x1="456.60" y1="732.90" x2="456.60" y2="720.60" stroke="#000" stroke-width="1.7"/>
<line x1="450.80" y1="720.60" x2="462.40" y2="720.60" stroke="#000" stroke-width="2.3"/>
<rect x="472.10" y="687.30" width="12.80" height="133.70" fill="#000"/>
<rect x="474.20" y="816.70" width="8.40" height="3.10" fill="#fff"/>
<rect x="474.20" y="808.57" width="8.40" height="3.10" fill="#fff"/>
<rect x="474.20" y="800.44" width="8.40" height="3.10" fill="#fff"/>
<rect x="474.20" y="792.31" width="8.40" height="3.10" fill="#fff"/>
<rect x="474.20" y="784.18" width="8.40" height="3.10" fill="#fff"/>
<rect x="474.20" y="776.05" width="8.40" height="3.10" fill="#fff"/>
<rect x="474.20" y="767.92" width="8.40" height="3.10" fill="#fff"/>
<rect x="474.20" y="759.79" width="8.40" height="3.10" fill="#fff"/>
<rect x="474.20" y="751.66" width="8.40" height="3.10" fill="#fff"/>
<rect x="474.20" y="743.53" width="8.40" height="3.10" fill="#fff"/>
<rect x="474.20" y="735.40" width="8.40" height="3.10" fill="#fff"/>
<rect x="474.20" y="727.27" width="8.40" height="3.10" fill="#fff"/>
<rect x="474.20" y="719.14" width="8.40" height="3.10" fill="#fff"/>
<rect x="474.20" y="711.01" width="8.40" height="3.10" fill="#fff"/>
<rect x="474.20" y="702.88" width="8.40" height="3.10" fill="#fff"/>
<rect x="474.20" y="694.75" width="8.40" height="3.10" fill="#fff"/>
<line x1="478.50" y1="687.80" x2="478.50" y2="667.80" stroke="#000" stroke-width="1.7"/>
<line x1="472.30" y1="667.80" x2="484.70" y2="667.80" stroke="#000" stroke-width="2.3"/>
<text x="140.5" y="849.7" font-size="20" textLength="40.5" lengthAdjust="spacingAndGlyphs" >none</text>
<text x="202.7" y="849.6" font-size="20" textLength="52.7" lengthAdjust="spacingAndGlyphs" >HMW</text>
<text x="198" y="871.5" font-size="20" textLength="54.6" lengthAdjust="spacingAndGlyphs" >tc-uPA</text>
<text x="291.7" y="849.5" font-size="20" textLength="41.0" lengthAdjust="spacingAndGlyphs" >GFD</text>
<text x="376.0" y="849.5" font-size="20" textLength="29.6" lengthAdjust="spacingAndGlyphs" >KD</text>
<text x="438.3" y="849" font-size="20" textLength="50.5" lengthAdjust="spacingAndGlyphs" >LMW</text>
<text x="435" y="871.3" font-size="20" textLength="53.3" lengthAdjust="spacingAndGlyphs" >tc-uPA</text>
<line x1="106" y1="903.1" x2="106" y2="1194" stroke="#000" stroke-width="2.7" />
<line x1="104.7" y1="904.4" x2="517.6" y2="904.4" stroke="#000" stroke-width="2.7" />
<line x1="516.3" y1="903.1" x2="516.3" y2="1193.4" stroke="#000" stroke-width="2.7" />
<line x1="104.7" y1="1192.8" x2="517.6" y2="1192.1" stroke="#000" stroke-width="2.6" />
<line x1="101.9" y1="1192.8" x2="105" y2="1192.8" stroke="#000" stroke-width="1.4" />
<line x1="101.9" y1="924.6" x2="105" y2="924.6" stroke="#000" stroke-width="1.3" />
<line x1="101.9" y1="962.3" x2="105" y2="962.3" stroke="#000" stroke-width="1.3" />
<line x1="101.9" y1="1000.8" x2="105" y2="1000.8" stroke="#000" stroke-width="1.3" />
<line x1="101.9" y1="1039.2" x2="105" y2="1039.2" stroke="#000" stroke-width="1.3" />
<line x1="101.9" y1="1077.7" x2="105" y2="1077.7" stroke="#000" stroke-width="1.3" />
<line x1="101.9" y1="1115.7" x2="105" y2="1115.7" stroke="#000" stroke-width="1.3" />
<line x1="101.9" y1="1154.2" x2="105" y2="1154.2" stroke="#000" stroke-width="1.3" />
<text y="933.8" font-size="19.7"><tspan x="45.77" textLength="18.88" lengthAdjust="spacingAndGlyphs">70</tspan> <tspan x="68.38" textLength="30.85" lengthAdjust="spacingAndGlyphs">000</tspan></text>
<text y="971.2" font-size="19.7"><tspan x="43.29" textLength="20.22" lengthAdjust="spacingAndGlyphs">60</tspan> <tspan x="67.69" textLength="30.42" lengthAdjust="spacingAndGlyphs">000</tspan></text>
<text y="1009.7" font-size="19.7"><tspan x="45.37" textLength="18.89" lengthAdjust="spacingAndGlyphs">50</tspan> <tspan x="68.79" textLength="30.42" lengthAdjust="spacingAndGlyphs">000</tspan></text>
<text y="1046.9" font-size="19.7"><tspan x="43.5" textLength="20.0" lengthAdjust="spacingAndGlyphs">40</tspan> <tspan x="67.29" textLength="30.32" lengthAdjust="spacingAndGlyphs">000</tspan></text>
<text y="1085.8" font-size="19.7"><tspan x="45.12" textLength="19.56" lengthAdjust="spacingAndGlyphs">30</tspan> <tspan x="68.38" textLength="30.85" lengthAdjust="spacingAndGlyphs">000</tspan></text>
<text y="1123.8" font-size="19.7"><tspan x="45.21" textLength="19.78" lengthAdjust="spacingAndGlyphs">20</tspan> <tspan x="68.78" textLength="30.85" lengthAdjust="spacingAndGlyphs">000</tspan></text>
<text y="1162.8" font-size="19.7"><tspan x="46.95" textLength="17.24" lengthAdjust="spacingAndGlyphs">10</tspan> <tspan x="68.79" textLength="30.42" lengthAdjust="spacingAndGlyphs">000</tspan></text>
<text x="89.7" y="1200.8" font-size="19.7" >0</text>
<text transform="translate(31,1139.7) rotate(-90)" font-size="26" textLength="193.7" lengthAdjust="spacingAndGlyphs">Adherent cells (n)</text>
<rect x="118.5" y="916.8" width="211.3" height="98.2" fill="#fff" stroke="#000" stroke-width="2.4"/>
<rect x="132.1" y="925.6" width="47.5" height="20.4" fill="#000"/>
<rect x="134.4" y="930" width="42.9" height="11.5" fill="#fff"/>
<rect x="134" y="956.5" width="48.1" height="20" fill="#000"/>
<rect x="136.9" y="961.0" width="42.8" height="10.9" fill="#c0c0c0"/>
<rect x="132.5" y="986.2" width="46.3" height="17.8" fill="#000"/>
<text x="189" y="945.8" font-size="24" textLength="63.0" lengthAdjust="spacingAndGlyphs" >plastic</text>
<text x="189" y="971.8" font-size="24" textLength="89.5" lengthAdjust="spacingAndGlyphs" >untreated</text>
<text x="190" y="995.6" font-size="24" textLength="125.4" lengthAdjust="spacingAndGlyphs" >0.4 μM GFD</text>
<rect x="137.80" y="1177.10" width="13.80" height="14.60" fill="#fff" stroke="#000" stroke-width="2.6"/>
<line x1="144.70" y1="1176.30" x2="144.70" y2="1175.00" stroke="#000" stroke-width="2.0"/>
<line x1="140.50" y1="1175.00" x2="148.90" y2="1175.00" stroke="#000" stroke-width="2.3"/>
<rect x="153.10" y="1174.30" width="12.80" height="17.40" fill="#c0c0c0" stroke="#000" stroke-width="2.6"/>
<line x1="159.50" y1="1173.50" x2="159.50" y2="1172.50" stroke="#000" stroke-width="2.0"/>
<line x1="155.30" y1="1172.50" x2="163.70" y2="1172.50" stroke="#000" stroke-width="2.3"/>
<rect x="166.40" y="1172.80" width="16.20" height="19.90" fill="#000"/>
<line x1="174.50" y1="1173.30" x2="174.50" y2="1172.60" stroke="#000" stroke-width="2.0"/>
<line x1="170.30" y1="1172.60" x2="178.70" y2="1172.60" stroke="#000" stroke-width="2.3"/>
<rect x="233.80" y="1172.10" width="13.10" height="19.60" fill="#fff" stroke="#000" stroke-width="2.6"/>
<line x1="240.35" y1="1171.30" x2="240.35" y2="1170.20" stroke="#000" stroke-width="2.0"/>
<line x1="236.15" y1="1170.20" x2="244.55" y2="1170.20" stroke="#000" stroke-width="2.3"/>
<rect x="248.50" y="1170.30" width="13.20" height="21.40" fill="#c0c0c0" stroke="#000" stroke-width="2.6"/>
<line x1="255.10" y1="1169.50" x2="255.10" y2="1165.90" stroke="#000" stroke-width="2.0"/>
<line x1="250.90" y1="1165.90" x2="259.30" y2="1165.90" stroke="#000" stroke-width="2.3"/>
<rect x="262.20" y="1165.60" width="16.00" height="27.10" fill="#000"/>
<line x1="270.20" y1="1166.10" x2="270.20" y2="1163.00" stroke="#000" stroke-width="2.0"/>
<line x1="266.00" y1="1163.00" x2="274.40" y2="1163.00" stroke="#000" stroke-width="2.3"/>
<rect x="328.00" y="1178.50" width="13.50" height="13.20" fill="#fff" stroke="#000" stroke-width="2.6"/>
<line x1="334.75" y1="1177.70" x2="334.75" y2="1176.40" stroke="#000" stroke-width="2.0"/>
<line x1="330.55" y1="1176.40" x2="338.95" y2="1176.40" stroke="#000" stroke-width="2.3"/>
<rect x="342.90" y="1131.10" width="13.60" height="60.60" fill="#c0c0c0" stroke="#000" stroke-width="2.6"/>
<line x1="349.70" y1="1130.30" x2="349.70" y2="1123.60" stroke="#000" stroke-width="2.0"/>
<line x1="345.50" y1="1123.60" x2="353.90" y2="1123.60" stroke="#000" stroke-width="2.3"/>
<rect x="357.20" y="1122.90" width="16.80" height="69.80" fill="#000"/>
<line x1="365.60" y1="1123.40" x2="365.60" y2="1116.70" stroke="#000" stroke-width="2.0"/>
<line x1="361.40" y1="1116.70" x2="369.80" y2="1116.70" stroke="#000" stroke-width="2.3"/>
<rect x="424.50" y="1177.30" width="12.80" height="14.40" fill="#fff" stroke="#000" stroke-width="2.6"/>
<line x1="430.90" y1="1176.50" x2="430.90" y2="1175.30" stroke="#000" stroke-width="2.0"/>
<line x1="426.70" y1="1175.30" x2="435.10" y2="1175.30" stroke="#000" stroke-width="2.3"/>
<rect x="439.00" y="1078.50" width="14.60" height="113.20" fill="#c0c0c0" stroke="#000" stroke-width="2.6"/>
<line x1="446.30" y1="1077.70" x2="446.30" y2="1064.30" stroke="#000" stroke-width="2.0"/>
<line x1="442.10" y1="1064.30" x2="450.50" y2="1064.30" stroke="#000" stroke-width="2.3"/>
<rect x="454.60" y="969.30" width="17.10" height="223.40" fill="#000"/>
<line x1="463.15" y1="969.80" x2="463.15" y2="947.60" stroke="#000" stroke-width="2.0"/>
<line x1="458.95" y1="947.60" x2="467.35" y2="947.60" stroke="#000" stroke-width="2.3"/>
<text x="126.2" y="1219.2" font-size="24" textLength="53.2" lengthAdjust="spacingAndGlyphs" >mock</text>
<text x="224.4" y="1219.2" font-size="24" textLength="57.2" lengthAdjust="spacingAndGlyphs" >uPAR</text>
<text x="311.8" y="1217.7" font-size="24.5" textLength="17.2" lengthAdjust="spacingAndGlyphs" class="gk">α</text>
<text x="328.4" y="1221.9" font-size="10.4" textLength="11.4" lengthAdjust="spacingAndGlyphs" >M</text>
<text x="338.4" y="1217.7" font-size="24.5" textLength="14.4" lengthAdjust="spacingAndGlyphs" class="gk">β</text>
<text x="351.6" y="1222.9" font-size="11.4" textLength="6.6" lengthAdjust="spacingAndGlyphs" >2</text>
<text x="377.1" y="1217.7" font-size="24.5" textLength="17.2" lengthAdjust="spacingAndGlyphs" class="gk">α</text>
<text x="393.7" y="1221.9" font-size="10.4" textLength="11.4" lengthAdjust="spacingAndGlyphs" >M</text>
<text x="404.1" y="1217.7" font-size="24.5" textLength="14.4" lengthAdjust="spacingAndGlyphs" class="gk">β</text>
<text x="416.9" y="1222.7" font-size="11.4" textLength="6.6" lengthAdjust="spacingAndGlyphs" >2</text>
<text x="422.4" y="1222.1" font-size="30" textLength="9.8" lengthAdjust="spacingAndGlyphs" >/</text>
<text x="433.1" y="1219.0" font-size="24" textLength="56.6" lengthAdjust="spacingAndGlyphs" >uPAR</text>
</svg>
</body></html>
